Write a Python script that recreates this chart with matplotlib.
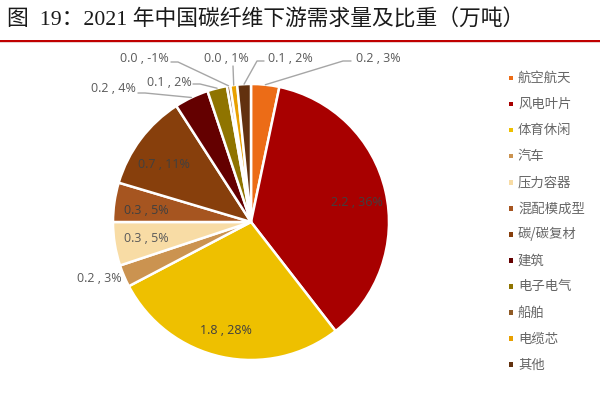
import numpy as np
import matplotlib
matplotlib.use("Agg")
import matplotlib.pyplot as plt
from matplotlib.patches import Rectangle

title = "图  19：2021 年中国碳纤维下游需求量及比重（万吨）"
categories = ["航空航天", "风电叶片", "体育休闲", "汽车", "压力容器", "混配模成型",
              "碳/碳复材", "建筑", "电子电气", "船舶", "电缆芯", "其他"]
shares = [3.3, 36.2, 27.8, 2.6, 5.1, 4.6, 11.3, 4.0, 2.3, 0.4, 0.8, 1.6]
labels = ["0.2 , 3%", "2.2 , 36%", "1.8 , 28%", "0.2 , 3%", "0.3 , 5%", "0.3 , 5%",
          "0.7 , 11%", "0.2 , 4%", "0.1 , 2%", "0.0 , -1%", "0.0 , 1%", "0.1 , 2%"]
colors = ["#EC6C17", "#A80000", "#EEC000", "#CB9350", "#F8DCA5", "#A65520",
          "#873F0C", "#640000", "#8F7400", "#8F5A25", "#E8A000", "#62310F"]
label_pos = [(378, 58), (357, 202), (226, 331), (99, 278), (146, 238), (146, 211),
             (164, 164), (113, 89), (169, 82), (144, 58), (226, 58), (290, 58)]
# leader elbow points in pixels (top-left origin): text end, knee
leaders = {0: [(351, 61), (343, 61)], 7: [(138, 93), (145, 93)], 8: [(193, 84), (200, 84)],
           9: [(171, 62), (178, 62)], 10: [(233, 66)], 11: [(264, 61), (257, 61)]}

W, H = 600, 400
CX, CY, R = 251, 222, 138
TXT = "#595959"
CJK = ["Noto Sans CJK SC", "DejaVu Sans"]

fig = plt.figure(figsize=(6, 4), dpi=100)
ax = fig.add_axes([0, 0, 1, 1])
wedges, _ = ax.pie(shares, colors=colors, startangle=90, counterclock=False,
                   center=(CX, H - CY), radius=R, frame=False,
                   wedgeprops=dict(edgecolor="white", linewidth=1.8))
ax.set_xlim(0, W)
ax.set_ylim(0, H)
ax.set_aspect("equal")
ax.axis("off")

for i, (w, lab, (px, py)) in enumerate(zip(wedges, labels, label_pos)):
    col = "#404040" if i in (1, 2, 5, 6) else TXT
    ax.text(px, H - py, lab, ha="center", va="center", fontsize=9, color=col,
            family=["Open Sans", "DejaVu Sans"])
    if i in leaders:
        a = np.deg2rad((w.theta1 + w.theta2) / 2)
        ex, ey = CX + R * np.cos(a), H - CY + R * np.sin(a)
        pts = leaders[i]
        xs = [p[0] for p in pts] + [ex]
        ys = [H - p[1] for p in pts] + [ey]
        ax.plot(xs, ys, color="#A6A6A6", lw=1.0, zorder=1, solid_capstyle="round")

ax.text(7, H - 20, title, fontsize=15.7, color="#1a1a1a", va="center", ha="left",
        family=["Liberation Serif", "Noto Sans CJK SC"])
ax.add_patch(Rectangle((0, H - 41.7), W, 1.9, color="#C00000", lw=0))
ax.add_patch(Rectangle((0, H - 43), W, 1.2, color="#E8D0D0", lw=0))

for i, (c, cat) in enumerate(zip(colors, categories)):
    y = H - (78 + i * 26.06)
    ax.add_patch(Rectangle((508.5, y - 2.3), 4.6, 4.6, color=c, lw=0))
    ax.text(518, y, cat, fontsize=9.6, color="#666666", va="center", ha="left", family=CJK)

fig.savefig("out.png", dpi=100, facecolor="white")
